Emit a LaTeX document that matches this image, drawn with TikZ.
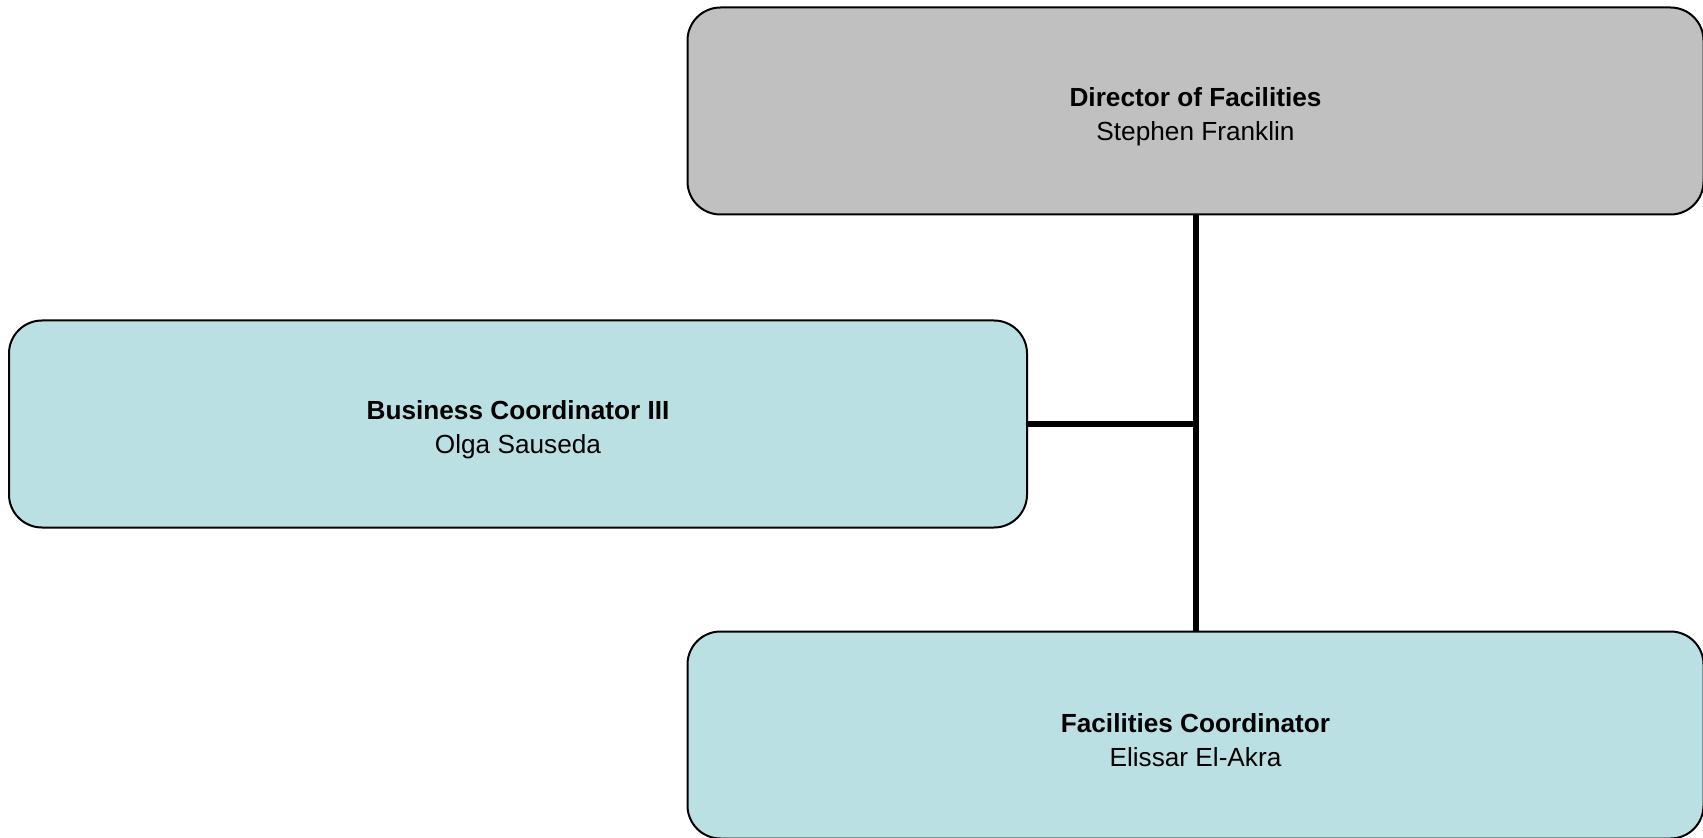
\documentclass[tikz,border=0pt]{standalone}
\usepackage{fontspec}
\setmainfont{Liberation Sans}
\definecolor{boxgray}{RGB}{192,192,192}
\definecolor{boxcyan}{RGB}{187,224,227}
\newcommand\orgtext[2]{\rule{0pt}{15pt}\textbf{#1}\\#2}
\begin{document}
\begin{tikzpicture}[x=0.5pt,y=0.5pt,
  orgbox/.style={draw=black, line width=1pt, rounded corners=16.5pt,
    minimum width=508pt, minimum height=103.5pt, align=center,
    font=\fontsize{13.1pt}{16.9pt}\selectfont},
  orgline/.style={line width=3pt}]
\useasboundingbox (0,0) rectangle (1703,837);
\node[orgbox, fill=boxgray] (dir) at (1195.5,726) {\orgtext{Director of Facilities}{Stephen Franklin}};
\node[orgbox, fill=boxcyan, minimum width=509pt] (bus) at (518,413) {\orgtext{Business Coordinator III}{Olga Sauseda}};
\node[orgbox, fill=boxcyan] (fac) at (1195.5,102) {\orgtext{Facilities Coordinator}{Elissar El-Akra}};
\coordinate (junc) at (dir.south |- bus.east);
\draw[orgline] (dir.south) -- (fac.north);
\draw[orgline] (bus.east) -- (junc);
\end{tikzpicture}
\end{document}
